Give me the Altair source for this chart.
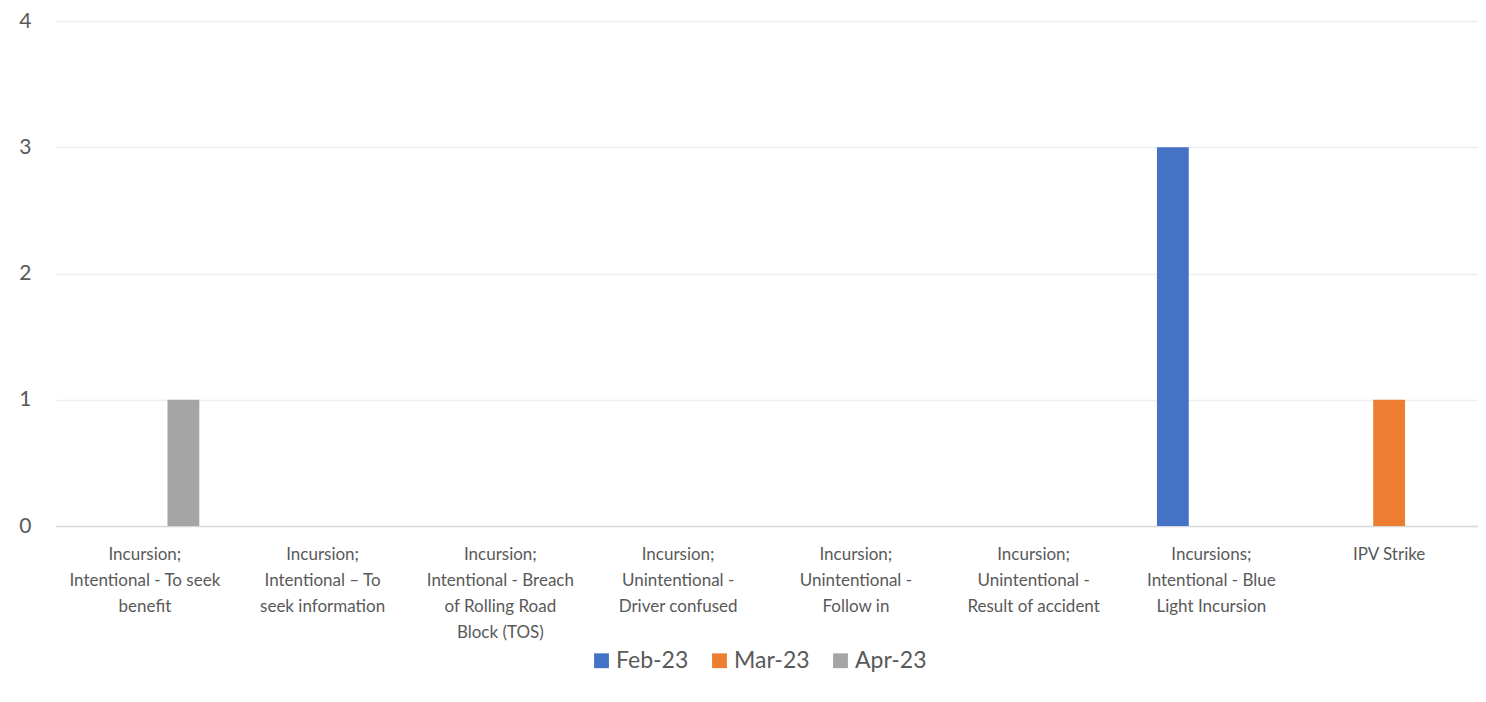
import altair as alt
import pandas as pd

categories = [
    "Incursion;\nIntentional - To seek\nbenefit",
    "Incursion;\nIntentional – To\nseek information",
    "Incursion;\nIntentional - Breach\nof Rolling Road\nBlock (TOS)",
    "Incursion;\nUnintentional -\nDriver confused",
    "Incursion;\nUnintentional -\nFollow in",
    "Incursion;\nUnintentional -\nResult of accident",
    "Incursions;\nIntentional - Blue\nLight Incursion",
    "IPV Strike",
]
months = ["Feb-23", "Mar-23", "Apr-23"]
feb = [0, 0, 0, 0, 0, 0, 3, 0]
mar = [0, 0, 0, 0, 0, 0, 0, 1]
apr = [1, 0, 0, 0, 0, 0, 0, 0]
colors = ["#4472C4", "#ED7D31", "#A5A5A5"]

rows = []
for m, vals in zip(months, [feb, mar, apr]):
    for c, v in zip(categories, vals):
        rows.append({"category": c, "month": m, "value": v})
df = pd.DataFrame(rows)

FONT = "Lato"
TXT = "#595959"

chart = (
    alt.Chart(df)
    .mark_bar()
    .encode(
        x=alt.X(
            "category:N",
            sort=categories,
            scale=alt.Scale(paddingInner=0, paddingOuter=0),
            axis=alt.Axis(
                title=None,
                labelAngle=0,
                labelExpr="split(datum.label, '\\n')",
                labelFont=FONT,
                labelFontSize=17,
                labelColor=TXT,
                labelLineHeight=26,
                labelPadding=20,
                labelBaseline="top",
                labelLimit=220,
                ticks=False,
                domainColor="#D9D9D9",
                domainWidth=1.5,
                grid=False,
            ),
        ),
        xOffset=alt.XOffset(
            "month:N",
            sort=months,
            scale=alt.Scale(paddingInner=0.174, paddingOuter=0.894),
        ),
        y=alt.Y(
            "value:Q",
            scale=alt.Scale(domain=[0, 4]),
            axis=alt.Axis(
                title=None,
                values=[0, 1, 2, 3, 4],
                format="d",
                labelFont=FONT,
                labelFontSize=21,
                labelColor=TXT,
                labelPadding=25,
                ticks=False,
                domain=False,
                gridColor="#EFEFEF",
                gridWidth=1.3,
            ),
        ),
        color=alt.Color(
            "month:N",
            sort=months,
            scale=alt.Scale(domain=months, range=colors),
            legend=alt.Legend(
                title=None,
                orient="none",
                legendX=534,
                legendY=628,
                direction="horizontal",
                symbolType="square",
                symbolSize=220,
                symbolStrokeWidth=0,
                labelFont=FONT,
                labelFontSize=23,
                labelColor=TXT,
                labelOffset=3,
                columnPadding=19,
            ),
        ),
    )
    .properties(
        width=1422,
        height=505,
        autosize=alt.AutoSizeParams(type="none"),
        padding={"left": 48, "top": 13, "right": 0, "bottom": 150},
    )
    .configure_view(stroke=None)
)

chart.save("out.html", embed_options={"renderer": "svg", "actions": False})
